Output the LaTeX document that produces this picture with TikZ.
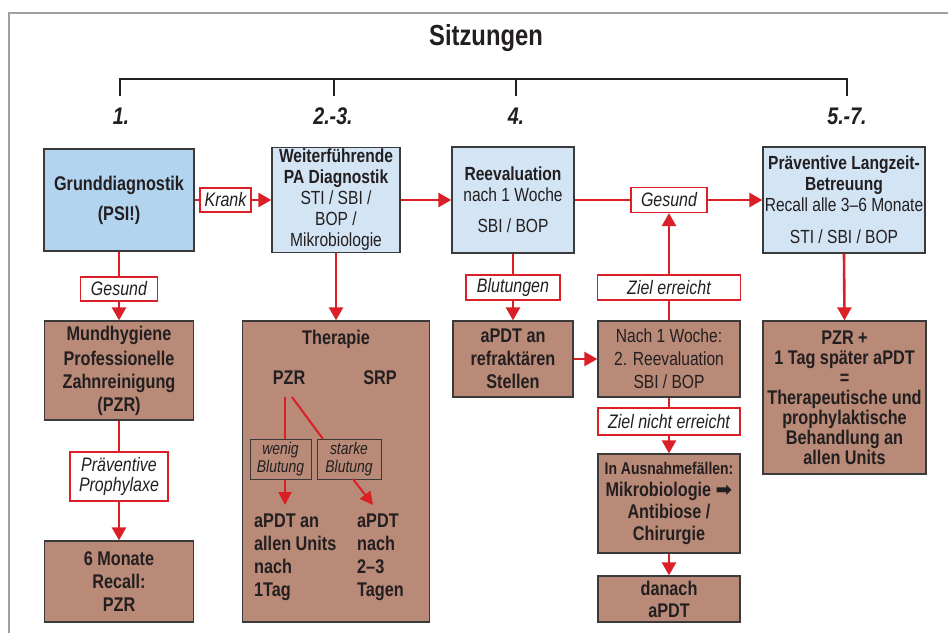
\documentclass[tikz,border=0pt]{standalone}
\usepackage{fontspec}
\setmainfont[FakeStretch=0.82]{Liberation Sans}
\newfontfamily\symfont{DejaVu Sans}
\usetikzlibrary{arrows.meta}
\definecolor{redc}{HTML}{DA1F26}
\definecolor{blueA}{HTML}{B3D4EF}
\definecolor{blueB}{HTML}{D3E4F5}
\definecolor{brownc}{HTML}{B98A77}
\definecolor{edgec}{HTML}{3A3A3A}
\definecolor{txt}{HTML}{231F20}
\definecolor{framec}{HTML}{A0A0A0}
\newcommand{\myfb}{\fontsize{19.8}{23}\selectfont\bfseries}
\newcommand{\myfn}{\fontsize{19}{21}\selectfont}
\newcommand{\myfi}{\fontsize{19.5}{20}\selectfont\itshape}
\tikzset{
  box/.style={draw=edgec, line width=1.3pt, align=center, inner sep=1pt, text=txt},
  bluebox/.style={box, fill=blueB},
  brownbox/.style={box, fill=brownc},
  lab/.style={draw=redc, fill=white, line width=1.2pt, align=center, inner sep=0pt, font=\myfi, text=txt},
  small/.style={draw=edgec, line width=1pt, align=center, inner sep=0pt, font=\fontsize{17}{17.5}\selectfont\itshape, text=txt},
  ln/.style={draw=redc, line width=2.6pt},
  arr/.style={draw=redc, line width=2.6pt, -{Triangle[length=13pt,width=14pt]}},
  thin/.style={draw=redc, line width=2pt},
  thinarr/.style={draw=redc, line width=2pt, -{Triangle[length=13pt,width=13pt]}},
  num/.style={font=\fontsize{24}{26}\selectfont\bfseries\itshape, text=txt},
  tick/.style={draw=txt, line width=1.2pt}
}
\begin{document}
\begin{tikzpicture}[x=1pt,y=-1pt]
\useasboundingbox (0,0) rectangle (948,633);
\fill[white] (0,0) rectangle (948,633);
% frame
\draw[framec, line width=1.5pt] (9,633) -- (9,13) -- (948,13);
% title and bracket
\node[font=\fontsize{29}{32}\selectfont\bfseries, text=txt] (title) at (486,38) {Sitzungen};
\node[num] (n1) at (121,116) {1.};
\node[num] (n2) at (333,116) {2.-3.};
\node[num] (n4) at (516,116) {4.};
\node[num] (n5) at (847,116) {5.-7.};
\coordinate (b1) at (120,79);
\coordinate (b2) at (334,79);
\coordinate (b4) at (516,79);
\coordinate (b5) at (847,79);
\draw[tick] (120,96) -- (b1) -- (b5) -- (847,96);
\draw[tick] (b2) -- (334,96);
\draw[tick] (b4) -- (516,96);

% top row
\node[box, fill=blueA, minimum width=150, minimum height=102, font=\myfb] (grund) at (119,200) {Grunddiagnostik\\[7pt](PSI!)};
\node[bluebox, minimum width=128, minimum height=105, font=\myfn] (weiter) at (336,200) {\textbf{Weiterführende}\\\textbf{PA Diagnostik}\\STI / SBI /\\BOP /\\Mikrobiologie};
\node[bluebox, minimum width=122, minimum height=106, font=\myfn] (reeval) at (513,200) {\textbf{Reevaluation}\\nach 1 Woche\\[10pt]SBI / BOP};
\node[bluebox, minimum width=162, minimum height=106, font=\myfn] (praev) at (844,200) {\textbf{Präventive Langzeit-}\\\textbf{Betreuung}\\Recall alle 3–6 Monate\\[11pt]STI / SBI / BOP};

% labels
\node[lab, minimum width=51, minimum height=24] (krank) at (225.5,200) {Krank};
\node[lab, minimum width=77, minimum height=24] (gesundA) at (119,289) {Gesund};
\node[lab, minimum width=76, minimum height=25] (gesundB) at (669,200) {Gesund};
\node[lab, minimum width=94, minimum height=25] (blut) at (513,287.5) {Blutungen};
\node[lab, minimum width=143, minimum height=25] (zielerr) at (669,287.5) {Ziel erreicht};
\node[lab, minimum width=142, minimum height=27] (zielnicht) at (669,421.5) {Ziel nicht erreicht};
\node[lab, minimum width=98, minimum height=49] (proph) at (119,476.5) {Präventive\\Prophylaxe};

% brown boxes
\node[brownbox, minimum width=149, minimum height=99, font=\myfb] (mund) at (119,370.5) {Mundhygiene\\[2pt]Professionelle\\Zahnreinigung\\(PZR)};
\node[brownbox, minimum width=149, minimum height=81, font=\myfb] (monate) at (119,581.5) {6 Monate\\Recall:\\PZR};
\node[brownbox, minimum width=187, minimum height=301] (therapie) at (336,471.5) {};
\node[font=\myfb, text=txt] (thtitle) at (336,339) {Therapie};
\node[font=\myfb, text=txt] (pzr) at (289,378) {PZR};
\node[font=\myfb, text=txt] (srp) at (380,378) {SRP};
\node[small, minimum width=61, minimum height=40] (wenig) at (280.5,459) {wenig\\Blutung};
\node[small, minimum width=64, minimum height=40] (starke) at (349,459) {starke\\Blutung};
\node[font=\myfb, align=left, anchor=north west, inner sep=0pt, text=txt] (resA) at (254,514) {aPDT an\\allen Units\\nach\\1Tag};
\node[font=\myfb, align=left, anchor=north west, inner sep=0pt, text=txt] (resB) at (357,514) {aPDT\\nach\\2–3\\Tagen};

\node[brownbox, minimum width=120, minimum height=76, font=\myfb] (apdtref) at (513,359) {aPDT an\\refraktären\\Stellen};
\node[brownbox, minimum width=142, minimum height=76, font=\myfn] (nach) at (669,359) {Nach 1 Woche:\\[2pt]2. Reevaluation\\[2pt]SBI / BOP};
\node[brownbox, minimum width=142, minimum height=99, font=\fontsize{19.8}{22}\selectfont\bfseries] (ausn) at (669,503.5) {{\fontsize{17}{22}\selectfont In Ausnahmefällen:}\\Mikrobiologie {\symfont ➡}\\Antibiose /\\Chirurgie};
\node[brownbox, minimum width=142, minimum height=46, font=\fontsize{19.8}{22}\selectfont\bfseries] (danach) at (669,599) {danach\\aPDT};
\node[brownbox, minimum width=163, minimum height=153, font=\fontsize{19.8}{20}\selectfont\bfseries] (pzrplus) at (844.5,397.5) {PZR +\\1 Tag später aPDT\\=\\Therapeutische und\\prophylaktische\\Behandlung an\\allen Units};

% connectors
\draw[ln] (grund.east) -- (krank.west);
\draw[arr] (krank.east) -- (weiter.west);
\draw[arr] (weiter.east) -- (reeval.west);
\draw[ln] (reeval.east) -- (gesundB.west);
\draw[arr] (gesundB.east) -- (praev.west);
\draw[ln] (grund.south) -- (gesundA.north);
\draw[arr] (gesundA.south) -- (mund.north);
\draw[ln] (mund.south) -- (proph.north);
\draw[arr] (proph.south) -- (monate.north);
\draw[arr] (weiter.south) -- (therapie.north);
\draw[ln] (reeval.south) -- (blut.north);
\draw[arr] (blut.south) -- (apdtref.north);
\draw[arr] (apdtref.east) -- (nach.west);
\draw[ln] (nach.north) -- (zielerr.south);
\draw[arr] (zielerr.north) -- (gesundB.south);
\draw[ln] (nach.south) -- (zielnicht.north);
\draw[arr] (zielnicht.south) -- (ausn.north);
\draw[arr] (ausn.south) -- (danach.north);
\draw[arr] (praev.south) -- (pzrplus.north);

% therapy inner connectors
\coordinate (pA) at (285,397);
\coordinate (pB) at (292,397);
\coordinate (sIn) at (323,439);
\coordinate (sOut) at (353,479);
\coordinate (tipA) at (285,505);
\coordinate (tipB) at (373,505);
\draw[thin] (pA) -- (pA |- wenig.north);
\draw[thinarr] (pA |- wenig.south) -- (tipA);
\draw[thin] (pB) -- (sIn);
\draw[thinarr] (sOut) -- (tipB);
\end{tikzpicture}
\end{document}
